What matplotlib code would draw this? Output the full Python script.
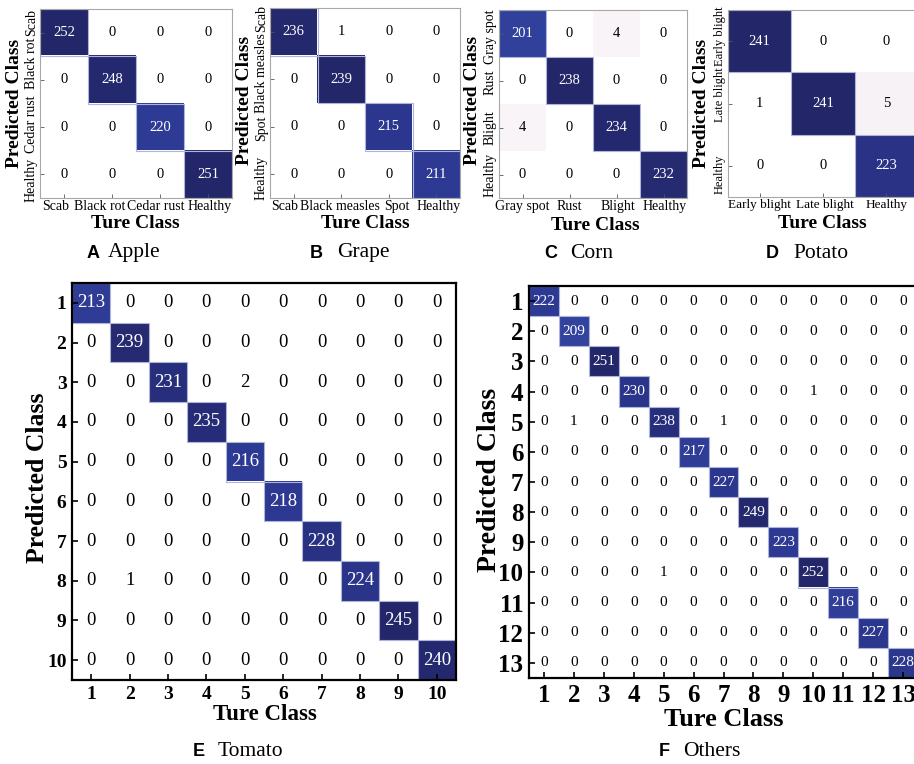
import matplotlib
matplotlib.use("Agg")
import matplotlib.pyplot as plt
import matplotlib.transforms as mtransforms
from matplotlib.colors import LinearSegmentedColormap
from matplotlib.patches import Rectangle
import numpy as np

# ---------------- data ----------------
apple_classes = ["Scab", "Black rot", "Cedar rust", "Healthy"]
apple_cm = [[252, 0, 0, 0],
            [0, 248, 0, 0],
            [0, 0, 220, 0],
            [0, 0, 0, 251]]

grape_classes = ["Scab", "Black measles", "Spot", "Healthy"]
grape_cm = [[236, 1, 0, 0],
            [0, 239, 0, 0],
            [0, 0, 215, 0],
            [0, 0, 0, 211]]

corn_classes = ["Gray spot", "Rust", "Blight", "Healthy"]
corn_cm = [[201, 0, 4, 0],
           [0, 238, 0, 0],
           [4, 0, 234, 0],
           [0, 0, 0, 232]]

potato_classes = ["Early blight", "Late blight", "Healthy"]
potato_cm = [[241, 0, 0],
             [1, 241, 5],
             [0, 0, 223]]

tomato_classes = ["1", "2", "3", "4", "5", "6", "7", "8", "9", "10"]
tomato_cm = [[213, 0, 0, 0, 0, 0, 0, 0, 0, 0],
             [0, 239, 0, 0, 0, 0, 0, 0, 0, 0],
             [0, 0, 231, 0, 2, 0, 0, 0, 0, 0],
             [0, 0, 0, 235, 0, 0, 0, 0, 0, 0],
             [0, 0, 0, 0, 216, 0, 0, 0, 0, 0],
             [0, 0, 0, 0, 0, 218, 0, 0, 0, 0],
             [0, 0, 0, 0, 0, 0, 228, 0, 0, 0],
             [0, 1, 0, 0, 0, 0, 0, 224, 0, 0],
             [0, 0, 0, 0, 0, 0, 0, 0, 245, 0],
             [0, 0, 0, 0, 0, 0, 0, 0, 0, 240]]

others_classes = ["1", "2", "3", "4", "5", "6", "7", "8", "9", "10", "11", "12", "13"]
others_cm = [[222, 0, 0, 0, 0, 0, 0, 0, 0, 0, 0, 0, 0],
             [0, 209, 0, 0, 0, 0, 0, 0, 0, 0, 0, 0, 0],
             [0, 0, 251, 0, 0, 0, 0, 0, 0, 0, 0, 0, 0],
             [0, 0, 0, 230, 0, 0, 0, 0, 0, 1, 0, 0, 0],
             [0, 1, 0, 0, 238, 0, 1, 0, 0, 0, 0, 0, 0],
             [0, 0, 0, 0, 0, 217, 0, 0, 0, 0, 0, 0, 0],
             [0, 0, 0, 0, 0, 0, 227, 0, 0, 0, 0, 0, 0],
             [0, 0, 0, 0, 0, 0, 0, 249, 0, 0, 0, 0, 0],
             [0, 0, 0, 0, 0, 0, 0, 0, 223, 0, 0, 0, 0],
             [0, 0, 0, 0, 1, 0, 0, 0, 0, 252, 0, 0, 0],
             [0, 0, 0, 0, 0, 0, 0, 0, 0, 0, 216, 0, 0],
             [0, 0, 0, 0, 0, 0, 0, 0, 0, 0, 0, 227, 0],
             [0, 0, 0, 0, 0, 0, 0, 0, 0, 0, 0, 0, 228]]

panel_letters = ["A", "B", "C", "D", "E", "F"]
panel_names = ["Apple", "Grape", "Corn", "Potato", "Tomato", "Others"]
xlabel_text = "Ture Class"
ylabel_text = "Predicted Class"

# ---------------- style ----------------
W, H = 914, 764
plt.rcParams["font.family"] = ["Liberation Serif", "DejaVu Serif"]
SERIF = "Liberation Serif"
SANS = "Liberation Sans"

cmap = LinearSegmentedColormap.from_list(
    "cm", [(0.0, "#FFFFFF"), (0.01, "#FFFFFF"), (0.016, "#F8F4F7"),
           (0.03, "#F3EFF3"), (0.5, "#8A94C8"), (0.82, "#3445A0"),
           (0.9, "#2C3790"), (1.0, "#232668")])

fig = plt.figure(figsize=(W / 100, H / 100), dpi=100)
fig.patch.set_facecolor("white")


def px(x, y):
    return x / W, 1 - y / H


def add_axes(l, t, r, b):
    return fig.add_axes([l / W, 1 - b / H, (r - l) / W, (b - t) / H])


def offset(dx, dy):
    # dx, dy in pixels (right / down positive)
    return mtransforms.ScaledTranslation(dx / 100, -dy / 100, fig.dpi_scale_trans)


def draw_cm(ax, cm, classes, small, num_fs, tick_fs, xoffs=None, yoffs=None,
            ytick_fs=None):
    cm = np.array(cm)
    n = cm.shape[0]
    vmax = cm.max()
    ax.imshow(cm, cmap=cmap, vmin=0, vmax=vmax, aspect="auto",
              interpolation="nearest")
    for i in range(n):
        for j in range(n):
            v = cm[i, j]
            dark = v > 0.5 * vmax
            if dark:
                ax.add_patch(Rectangle((j - 0.5, i - 0.5), 1, 1, fill=False,
                                       edgecolor="#AEB5DA", lw=0.8, zorder=2))
            ax.text(j, i, str(v), ha="center", va="center",
                    color="white" if dark else "black", fontsize=num_fs,
                    family=SERIF, zorder=3)
    ax.set_xlim(-0.5, n - 0.5)
    ax.set_ylim(n - 0.5, -0.5)
    ax.set_xticks(range(n))
    ax.set_yticks(range(n))
    if small:
        ax.set_xticklabels([])
        ax.set_yticklabels([])
        ax.tick_params(direction="in", length=3, width=0.6, color="#555555")
        for s in ax.spines.values():
            s.set_color("#A8A8A8")
            s.set_linewidth(0.8)
        bx = mtransforms.blended_transform_factory(ax.transData, ax.transAxes)
        by = mtransforms.blended_transform_factory(ax.transAxes, ax.transData)
        for j, lab in enumerate(classes):
            ax.text(j, 0, lab, ha="center", va="top", fontsize=tick_fs,
                    family=SERIF, transform=bx + offset(xoffs[j], 2),
                    clip_on=False)
        for i, lab in enumerate(classes):
            ax.text(0, i, lab, ha="right", va="center", rotation=90,
                    fontsize=ytick_fs or tick_fs, family=SERIF,
                    transform=by + offset(-2, yoffs[i]), clip_on=False)
    else:
        ax.set_xticklabels(classes, fontsize=tick_fs, family=SERIF,
                           fontweight="bold")
        ax.set_yticklabels(classes, fontsize=tick_fs, family=SERIF,
                           fontweight="bold")
        ax.tick_params(direction="in", length=4, width=1.2, color="black")
        ax.tick_params(axis="x", pad=4)
        ax.tick_params(axis="y", pad=4)
        for s in ax.spines.values():
            s.set_color("black")
            s.set_linewidth(1.6)


def caption(letter, name, xc_letter, x_name, y):
    fig.text(*px(xc_letter, y), letter, ha="center", va="center",
             family=SANS, fontweight="bold", fontsize=13)
    fig.text(*px(x_name, y), name, ha="left", va="center",
             family=SERIF, fontsize=15.5)


# ---------------- top row ----------------
axA = add_axes(40, 9, 232, 198)
draw_cm(axA, apple_cm, apple_classes, True, 10.5, 10,
        xoffs=[-8, -12, -4, 2], yoffs=[-10, -17, -3, 5])
axB = add_axes(270, 8, 460, 198)
draw_cm(axB, grape_cm, grape_classes, True, 10.5, 10,
        xoffs=[-9, -1, 8, 2], yoffs=[-13, -6, 2, 4])
axC = add_axes(499, 10, 687, 198)
draw_cm(axC, corn_cm, corn_classes, True, 10.5, 10,
        xoffs=[0, 0, 1, 1], yoffs=[3, 2, 0, 0])
axD = add_axes(728, 10, 918, 197)
draw_cm(axD, potato_cm, potato_classes, True, 10.5, 9.5,
        xoffs=[0, 2, 0], yoffs=[-5, -9, 8], ytick_fs=9)

for (xt, yt, xp, yp) in [(135, 223, 15, 103), (365, 223, 244, 100),
                         (595, 225, 473, 100), (822, 224, 701, 103)]:
    fig.text(*px(xt, yt), xlabel_text, ha="center", va="center",
             family=SERIF, fontweight="bold", fontsize=14)
    fig.text(*px(xp, yp), ylabel_text, ha="center", va="center",
             rotation=90, family=SERIF, fontweight="bold", fontsize=14)

caption(panel_letters[0], panel_names[0], 93, 108, 253)
caption(panel_letters[1], panel_names[1], 316, 337, 253)
caption(panel_letters[2], panel_names[2], 551, 570, 253)
caption(panel_letters[3], panel_names[3], 772, 793, 253)

# ---------------- bottom row ----------------
axE = add_axes(72, 283, 456, 680)
draw_cm(axE, tomato_cm, tomato_classes, False, 13.5, 14)
fig.text(*px(265, 714), xlabel_text, ha="center", va="center",
         family=SERIF, fontweight="bold", fontsize=16.5)
fig.text(*px(38, 478), ylabel_text, ha="center", va="center", rotation=90,
         family=SERIF, fontweight="bold", fontsize=18.5)

axF = add_axes(529, 286, 918, 678)
draw_cm(axF, others_cm, others_classes, False, 11, 18)
fig.text(*px(724, 720), xlabel_text, ha="center", va="center",
         family=SERIF, fontweight="bold", fontsize=19)
fig.text(*px(490, 480), ylabel_text, ha="center", va="center", rotation=90,
         family=SERIF, fontweight="bold", fontsize=20)

caption(panel_letters[4], panel_names[4], 199, 218, 752)
caption(panel_letters[5], panel_names[5], 664, 683, 752)

fig.savefig("out.png", dpi=100)
